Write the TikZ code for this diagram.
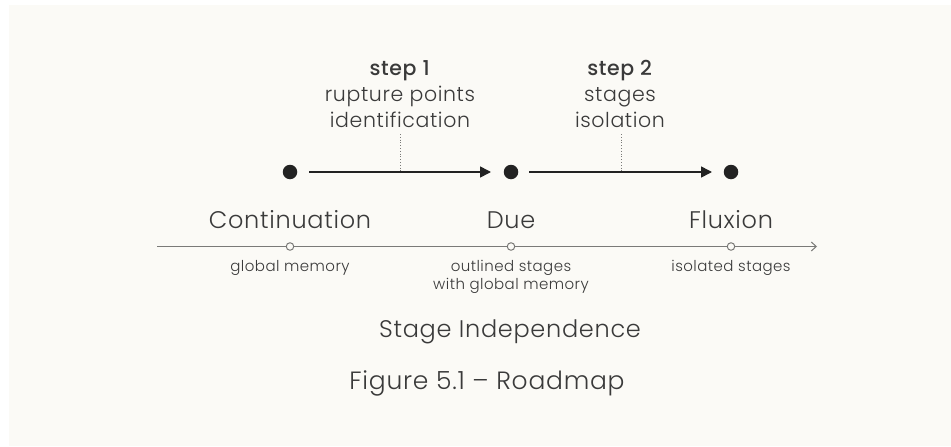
\documentclass[tikz,border=0pt]{standalone}
\usepackage{fontspec}
\setmainfont{Poppins}[UprightFont=* Light, BoldFont=* Medium, LetterSpace=3]
\usetikzlibrary{arrows.meta}
\definecolor{bgc}{HTML}{FBFAF6}
\definecolor{ink}{HTML}{222222}
\definecolor{txt}{HTML}{3A3A3A}
\definecolor{axc}{HTML}{7A7A78}
\newcommand{\mylines}[1]{\begin{tabular}[t]{@{}c@{}}#1\end{tabular}}
\tikzset{
  dot/.style={circle,fill=ink,inner sep=0pt,minimum size=14.5pt},
  tick/.style={circle,draw=axc,fill=bgc,line width=1pt,inner sep=0pt,minimum size=7.5pt},
  stepline/.style={draw=ink,line width=1.6pt,-{Triangle[length=11pt,width=11pt]}},
  guide/.style={draw=axc,line width=0.8pt,dotted},
  big/.style={text=txt,font=\fontsize{24}{28}\selectfont,inner sep=0pt,anchor=base},
  mid/.style={text=txt,font=\fontsize{20.5}{26}\selectfont,inner sep=0pt,anchor=base},
  small/.style={text=txt,font=\fontsize{15}{18}\selectfont,inner sep=0pt,anchor=base},
}
\begin{document}
\begin{tikzpicture}[x=1pt,y=-1pt]
\useasboundingbox (0,0) rectangle (951,447);
\fill[white] (0,0) rectangle (951,447);
\fill[bgc] (9,5) rectangle (951,446);
% dots
\node[dot] (d1) at (290,172) {};
\node[dot] (d2) at (511,172) {};
\node[dot] (d3) at (731,172) {};
\coordinate (a1s) at (309,172);
\coordinate (a1e) at (491,172);
\coordinate (a2s) at (529,172);
\coordinate (a2e) at (712,172);
\draw[stepline] (a1s) -- (a1e);
\draw[stepline] (a2s) -- (a2e);
% step labels
\node[mid] (s1) at (400,75) {\mylines{\textbf{step 1}\\rupture points\\identification}};
\node[mid] (s2) at (620,75) {\mylines{\textbf{step 2}\\stages\\isolation}};
\coordinate (g1a) at (400,134);
\coordinate (g1b) at (400,171);
\coordinate (g2a) at (621,134);
\coordinate (g2b) at (621,171);
\draw[guide] (g1a) -- (g1b);
\draw[guide] (g2a) -- (g2b);
% stage names
\node[big] (n1) at (290,228) {Continuation};
\node[big] (n2) at (511,228) {Due};
\node[big] (n3) at (731,228) {Fluxion};
% axis
\coordinate (ax0) at (157,246.5);
\coordinate (ax1) at (817,246.5);
\draw[draw=axc,line width=1.3pt,-{Straight Barb[length=5pt,width=9pt,line width=1pt]}] (ax0) -- (ax1);
\node[tick] (t1) at (290,246.5) {};
\node[tick] (t2) at (511,246.5) {};
\node[tick] (t3) at (731,246.5) {};
% axis labels
\node[small] (l1) at (290,271) {global memory};
\node[small] (l2) at (511,271) {\mylines{outlined stages\\with global memory}};
\node[small] (l3) at (731,271) {isolated stages};
\node[big] (ttl) at (510,337.5) {Stage Independence};
\node[big,font=\fontsize{25}{29}\selectfont] (cap) at (487,389) {Figure 5.1 – Roadmap};
\end{tikzpicture}
\end{document}
